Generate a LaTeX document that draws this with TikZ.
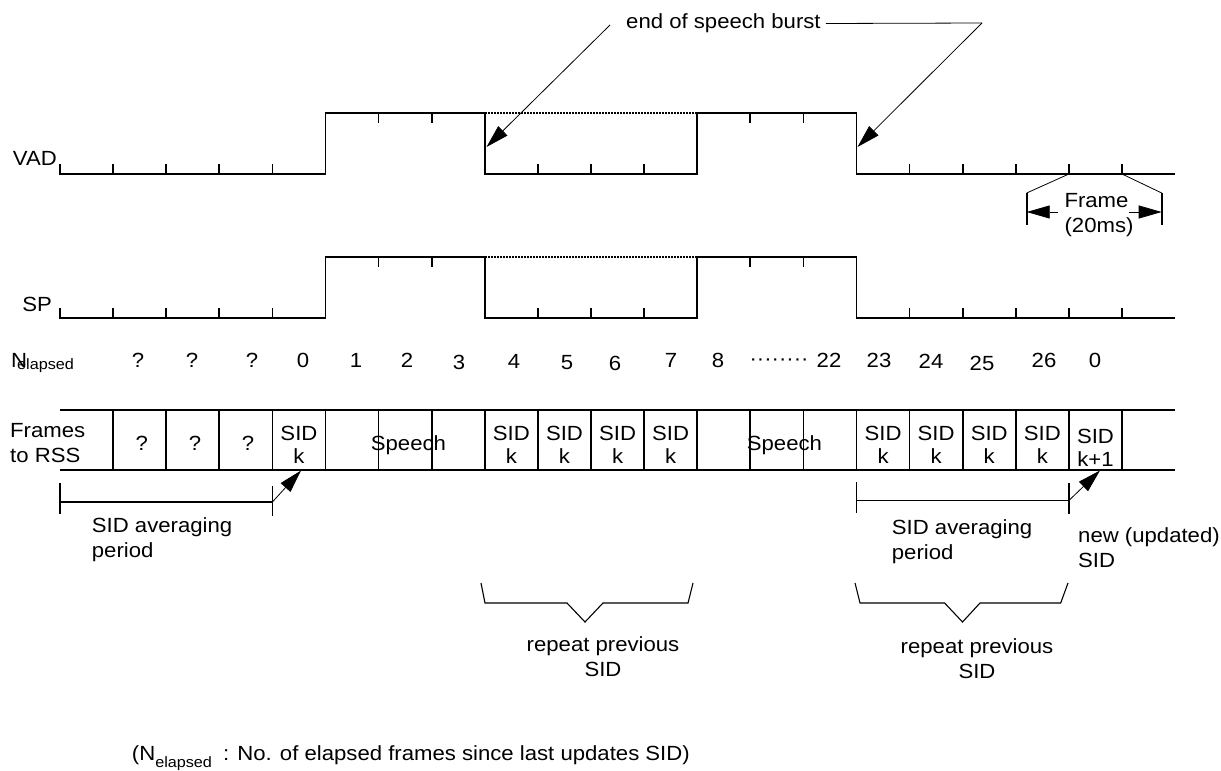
\documentclass[tikz,border=0pt]{standalone}
\usepackage{fontspec}
\setmainfont{Liberation Sans}[FakeStretch=1.08]
\usetikzlibrary{arrows.meta}

\newcommand{\lbfont}{\fontsize{20.5}{25}\selectfont}
\newcommand{\subfont}{\fontsize{15}{15}\selectfont}
\newcommand{\framew}{53.1}

\tikzset{
  wave/.style={line width=1.7pt},
  dotline/.style={line width=1.2pt, dash pattern=on 2pt off 1pt},
  thinline/.style={line width=0.8pt},
  ptr/.style={line width=0.8pt, -{Triangle[length=23pt,width=13pt]}},
  repbrace/.style={line width=1.1pt},
  cell/.style={anchor=north, align=center, font=\fontsize{20.5}{23}\selectfont},
}

\begin{document}
\begin{tikzpicture}[x=1pt, y=-1pt, every node/.style={font=\lbfont, inner sep=0pt}]
  \useasboundingbox (0,0) rectangle (1221,771);

  % End of speech burst
  \node[anchor=west] (esb) at (626,23.5) {end of speech burst};
  \coordinate (esbL) at (610,25);
  \coordinate (esbR) at (982,23);
  \coordinate (fallA) at (486.5,147);
  \coordinate (fallB) at (857.5,147);
  \draw[thinline] ([xshift=5pt]esb.east) -- (esbR);
  \draw[ptr] (esbL) -- (fallA);
  \draw[ptr] (esbR) -- (fallB);

  % VAD and SP
  \node[anchor=east] (vad) at (57,158.5) {VAD};
  \node[anchor=east] (sp) at (52,304.5) {SP};
  \foreach \lo/\hi in {174/113, 318/257} {
    \draw[wave] (60,{\lo-10}) -- (60,\lo) -- (325.5,\lo) -- (325.5,\hi) -- (484.8,\hi) -- (484.8,\lo)
      -- (697.2,\lo) -- (697.2,\hi) -- (856.5,\hi) -- (856.5,\lo) -- (1175.1,\lo);
    \draw[dotline] (484.8,\hi) -- (697.2,\hi);
    \foreach \k in {1,2,3,4,9,10,11,16,17,18,19,20}
      \draw[wave] ({60+\framew*\k},\lo) -- ++(0,-10);
    \foreach \k in {6,7,13,14}
      \draw[wave] ({60+\framew*\k},\hi) -- ++(0,10);
  }

  % Frame (20ms)
  \coordinate (tkA) at ({60+\framew*19},174);
  \coordinate (tkB) at ({60+\framew*20},174);
  \coordinate (barA) at (1026.7,193);
  \coordinate (barB) at (1161.7,193);
  \draw[thinline] (tkA) -- (barA);
  \draw[thinline] (tkB) -- (barB);
  \draw[wave] (barA) -- ++(0,32);
  \draw[wave] (barB) -- ++(0,32);
  \node (frm) at (1096.5,201) {Frame};
  \node (ms) at (1099,227) {(20ms)};
  \coordinate (arA) at (1058,212);
  \coordinate (arB) at (1129,212);
  \draw[ptr] (arA) -- (barA |- arA);
  \draw[ptr] (arB) -- (barB |- arB);

  % N elapsed
  \node[anchor=base west] (nel) at (11,367) {N\kern-10pt\raisebox{-2pt}{\subfont elapsed}};
  \foreach \v/\x/\dy [count=\i] in {?/138/0, ?/192/0, ?/252/0, 0/303/0, 1/356/0, 2/407/0, 3/459/2,
      4/514/1, 5/567/2, 6/615/3, 7/671/0, 8/718/0, ········/779/-2, 22/829/0, 23/879/0,
      24/931/1, 25/982/3, 26/1044/0, 0/1095/0}
    \node[anchor=base] (n\i) at (\x,{367+\dy}) {\v};

  % Frames to RSS
  \node[anchor=north west, align=left] (rss) at (10,423) {Frames\\to RSS};
  \draw[wave] (60,410) -- (1175.1,410);
  \draw[wave] (60,470) -- (1175.1,470);
  \foreach \k in {1,...,20}
    \draw[wave] ({60+\framew*\k},410) -- ({60+\framew*\k},470);
  \foreach \x [count=\i] in {141.7,195,248}
    \node[anchor=base] (q\i) at (\x,450) {?};
  \foreach \k in {4,8,9,10,11,15,16,17,18}
    \node[cell] (sid\k) at ({60+\framew*(\k+0.5)},426) {SID\\k};
  \node[cell] (sidnew) at (1095.5,429) {SID\\k+1};
  \node[anchor=base west] (spchA) at (370.7,450) {Speech};
  \node[anchor=base west] (spchB) at (746.7,450) {Speech};

  % SID averaging periods
  \draw[wave] (60,483) -- (60,514);
  \draw[wave] (60,502) -- (272.4,502);
  \draw[wave] (272.4,486) -- (272.4,516);
  \coordinate (avgA) at (272.4,502);
  \coordinate (sidkA) at (301,470.5);
  \draw[ptr] (avgA) -- (sidkA);
  \node[anchor=north west, align=left] (avgtxtA) at (91.7,517) {SID averaging\\period};

  \draw[wave] (856.5,482) -- (856.5,513);
  \draw[wave] (856.5,500.5) -- (1068.9,500.5);
  \draw[wave] (1068.9,483) -- (1068.9,514);
  \coordinate (avgB) at (1068.9,500.5);
  \coordinate (sidkB) at (1100,470.5);
  \draw[ptr] (avgB) -- (sidkB);
  \node[anchor=north west, align=left] (avgtxtB) at (891.7,519) {SID averaging\\period};
  \node[anchor=north west, align=left] (newsid) at (1078,527) {new (updated)\\SID};

  % Repeat previous SID
  \draw[repbrace] (481,583) -- (485,603) -- (567,603) -- (585,622) -- (603,603) -- (688,603) -- (693,583);
  \node[anchor=north, align=center] (repA) at (603,636) {repeat previous\\SID};
  \draw[repbrace] (855,583) -- (860,603) -- (944.6,603) -- (962.5,622) -- (980,603) -- (1060.7,603) -- (1068,583);
  \node[anchor=north, align=center] (repB) at (977,638) {repeat previous\\SID};

  % Note
  \node[anchor=base west] (note) at (131.7,760.7)
    {(N\raisebox{-7pt}{\subfont elapsed}\hspace{11pt}: No. of elapsed frames since last updates SID)};
\end{tikzpicture}
\end{document}
